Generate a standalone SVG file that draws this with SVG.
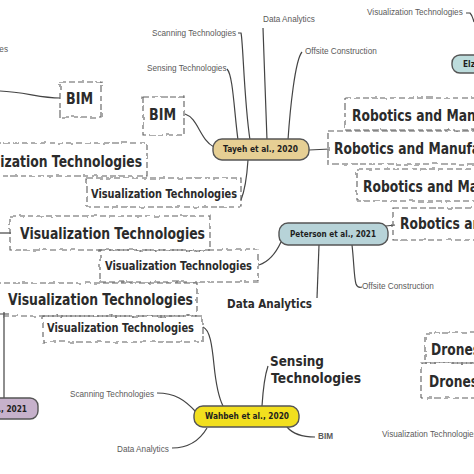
<svg xmlns="http://www.w3.org/2000/svg" width="474" height="474" viewBox="0 0 474 474">
<defs>
<filter id="rough" x="-10%" y="-30%" width="120%" height="160%">
<feTurbulence type="fractalNoise" baseFrequency="0.13" numOctaves="1" seed="4" result="n"/>
<feDisplacementMap in="SourceGraphic" in2="n" scale="3.5" xChannelSelector="R" yChannelSelector="G"/>
</filter>
</defs>
<style>
.box{fill:none;stroke:#5c5c5c;stroke-width:1.1;stroke-dasharray:6 3;filter:url(#rough)}
.bt{font-family:"DejaVu Sans",sans-serif;font-weight:bold;fill:#2b2b2b}
.nt{font-family:"DejaVu Sans",sans-serif;font-weight:bold;font-size:9px;fill:#1e1e1e}
.lb{font-family:"Liberation Sans",sans-serif;font-size:8.2px;fill:#5a5a5a}
.node{stroke:#555;stroke-width:1.4}
.c{fill:none;stroke:#444;stroke-width:1.2}
</style>
<rect width="474" height="474" fill="#fff"/>
<g id="connectors">
<path class="c" d="M0,91 C25,92 40,98 60,98"/>
<path class="c" d="M227,69 C233,75 234,110 238,140"/>
<path class="c" d="M238,33 L241,33 C243,40 244,100 250,140"/>
<path class="c" d="M263,28 C264,60 266,110 267,140"/>
<path class="c" d="M302,52 C295,60 290,110 288,140"/>
<path class="c" d="M185,114 C198,118 200,140 214,147"/>
<path class="c" d="M309,150 L330,149"/>
<path class="c" d="M248,160 C247,175 245,190 241,200"/>
<path class="c" d="M466,13 L470,13 C472,15 473,18 474,22"/>
<path class="c" d="M386,226 L395,225"/>
<path class="c" d="M281,242 C275,255 268,262 259,265"/>
<path class="c" d="M319,245 L317,298"/>
<path class="c" d="M352,245 C354,262 354,278 356,284 C357,287 359,288 362,287"/>
<path class="c" d="M0,233 L11,233"/>
<path class="c" d="M0,314 L9,314 M4,312 L4,398"/>
<path class="c" d="M203,327 C210,330 212,345 214,365 C216,385 219,398 223,406"/>
<path class="c" d="M157,393 C175,393 185,400 196,412"/>
<path class="c" d="M172,448 C190,448 200,440 207,428"/>
<path class="c" d="M287,427 C292,433 300,437 315,437"/>
<path class="c" d="M262,406 C263,390 265,375 268,366"/>
</g>
<g id="bim1"><rect class="box" x="60" y="82" width="41" height="35"/><text class="bt" x="66" y="104" font-size="15" textLength="27" lengthAdjust="spacingAndGlyphs">BIM</text></g>
<g id="bim2"><rect class="box" x="143" y="97" width="41" height="38"/><text class="bt" x="149" y="120" font-size="15" textLength="27" lengthAdjust="spacingAndGlyphs">BIM</text></g>
<g id="vis-top"><rect class="box" x="-5" y="143" width="152" height="33"/><text class="bt" x="-42" y="167" font-size="16" textLength="184" lengthAdjust="spacingAndGlyphs">Visualization Technologies</text></g>
<g id="vis-small"><rect class="box" x="87" y="178" width="154" height="29"/><text class="bt" x="91" y="198" font-size="12.5" textLength="146" lengthAdjust="spacingAndGlyphs">Visualization Technologies</text></g>
<g id="rob1"><rect class="box" x="345" y="98" width="140" height="32"/><text class="bt" x="352" y="121" font-size="15" textLength="196" lengthAdjust="spacingAndGlyphs">Robotics and Manufacturing</text></g>
<g id="rob2"><rect class="box" x="328" y="131" width="160" height="33"/><text class="bt" x="334" y="154" font-size="15" textLength="196" lengthAdjust="spacingAndGlyphs">Robotics and Manufacturing</text></g>
<g id="rob3"><rect class="box" x="357" y="169" width="130" height="32"/><text class="bt" x="363" y="192" font-size="15" textLength="196" lengthAdjust="spacingAndGlyphs">Robotics and Manufacturing</text></g>
<g id="rob4"><rect class="box" x="393" y="208" width="90" height="32"/><text class="bt" x="400" y="229" font-size="15" textLength="196" lengthAdjust="spacingAndGlyphs">Robotics and Manufacturing</text></g>
<g id="vis-a"><rect class="box" x="10" y="216" width="200" height="34"/><text class="bt" x="20" y="239" font-size="15" textLength="185" lengthAdjust="spacingAndGlyphs">Visualization Technologies</text></g>
<g id="vis-b"><rect class="box" x="100" y="250" width="158" height="32"/><text class="bt" x="105" y="270" font-size="12.5" textLength="147" lengthAdjust="spacingAndGlyphs">Visualization Technologies</text></g>
<g id="vis-c"><rect class="box" x="-5" y="283" width="202" height="33"/><text class="bt" x="8" y="305" font-size="15" textLength="185" lengthAdjust="spacingAndGlyphs">Visualization Technologies</text></g>
<g id="vis-d"><rect class="box" x="43" y="316" width="160" height="26"/><text class="bt" x="47" y="332" font-size="12.5" textLength="147" lengthAdjust="spacingAndGlyphs">Visualization Technologies</text></g>
<g id="drones1"><rect class="box" x="425" y="333" width="60" height="30"/><text class="bt" x="431" y="355" font-size="15" textLength="49" lengthAdjust="spacingAndGlyphs">Drones</text></g>
<g id="drones2"><rect class="box" x="421" y="363" width="60" height="35"/><text class="bt" x="429" y="387" font-size="15" textLength="49" lengthAdjust="spacingAndGlyphs">Drones</text></g>
<g id="sensing"><text class="bt" x="270" y="366" font-size="14" textLength="54" lengthAdjust="spacingAndGlyphs">Sensing</text><text class="bt" x="271" y="383" font-size="14" textLength="90" lengthAdjust="spacingAndGlyphs">Technologies</text></g>
<g id="data-analytics"><text class="bt" x="227" y="308" font-size="13" textLength="85" lengthAdjust="spacingAndGlyphs">Data Analytics</text></g>
<g id="tayeh"><rect class="node" x="213" y="139" width="96" height="21" rx="9" fill="#e6cf94"/><text class="nt" x="223" y="152" textLength="75" lengthAdjust="spacingAndGlyphs">Tayeh et al., 2020</text></g>
<g id="peterson"><rect class="node" x="279" y="223" width="109" height="22" rx="9" fill="#b7d3d8"/><text class="nt" x="290" y="237" textLength="86" lengthAdjust="spacingAndGlyphs" fill="#1b2b4b">Peterson et al., 2021</text></g>
<g id="wahbeh"><rect class="node" x="194" y="406" width="105" height="21" rx="9" fill="#f2df1e"/><text class="nt" x="205" y="419" textLength="84" lengthAdjust="spacingAndGlyphs">Wahbeh et al., 2020</text></g>
<g id="purple"><rect class="node" x="-20" y="398" width="58" height="21" rx="8" fill="#c6b1cb"/><text class="nt" x="-20.5" y="412" textLength="47.5" lengthAdjust="spacingAndGlyphs">et al., 2021</text></g>
<g id="elz"><rect class="node" x="452" y="55" width="40" height="18" rx="8" fill="#bddcdc"/><text class="nt" x="463" y="67" textLength="12" lengthAdjust="spacingAndGlyphs">Elz</text></g>
<g id="labels">
<text class="lb" x="8" y="52" text-anchor="end">Technologies</text>
<text class="lb" x="152" y="36">Scanning Technologies</text>
<text class="lb" x="147" y="71">Sensing Technologies</text>
<text class="lb" x="263" y="22">Data Analytics</text>
<text class="lb" x="305" y="54">Offsite Construction</text>
<text class="lb" x="367" y="15">Visualization Technologies</text>
<text class="lb" x="362" y="289">Offsite Construction</text>
<text class="lb" x="70" y="397">Scanning Technologies</text>
<text class="lb" x="117" y="452">Data Analytics</text>
<text class="lb" x="318" y="439" font-weight="bold" font-size="7.5">BIM</text>
<text class="lb" x="382" y="437">Visualization Technologies</text>
</g>
</svg>
